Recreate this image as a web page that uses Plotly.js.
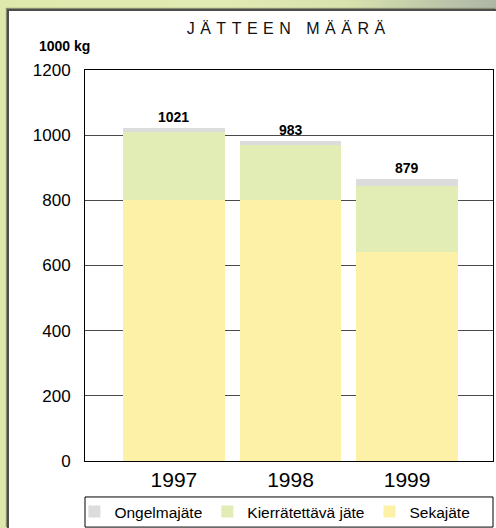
<!DOCTYPE html>
<html>
<head>
<meta charset="utf-8">
<script src="https://cdn.plot.ly/plotly-3.0.1.min.js"></script>
<style>
  html, body { margin: 0; padding: 0; }
  body {
    width: 496px; height: 528px; overflow: hidden; position: relative;
    background: linear-gradient(to right, #dfe8ac 0%, #e1eab2 45%, #d8e2ae 70%, #c2ccaa 85%, #aeb6a6 100%);
  }
  #panel {
    position: absolute; left: 7px; top: 9px; right: 0; bottom: 0;
    background: #ffffff;
    border-left: 2px solid #4d4d4d; border-top: 2px solid #4d4d4d;
    box-shadow: -1px -1px 1px #8a8a70;
  }
  #chart { position: absolute; left: 0; top: 0; width: 496px; height: 528px; }
  .gtitle { letter-spacing: 5.5px; }
</style>
</head>
<body>
<div id="panel"></div>
<div id="chart"></div>
<script>
// Data
const years = ['1997', '1998', '1999'];
const sekajate = [800, 800, 640];
const kierratettava = [210, 170, 205];
const ongelmajate = [11, 13, 20];
const totalLabels = ['1021', '983', '879'];

const totals = years.map((_, i) => sekajate[i] + kierratettava[i] + ongelmajate[i]);

const FONT = '"Liberation Sans", Arial, Helvetica, sans-serif';

const traces = [
  { type: 'bar', name: 'Sekajäte', x: years, y: sekajate,
    marker: { color: '#fdf1a7', line: { width: 0 } }, hoverinfo: 'skip' },
  { type: 'bar', name: 'Kierrätettävä jäte', x: years, y: kierratettava,
    marker: { color: '#e1edb4', line: { width: 0 } }, hoverinfo: 'skip' },
  { type: 'bar', name: 'Ongelmajäte', x: years, y: ongelmajate,
    marker: { color: '#dcdcdc', line: { width: 0 } }, hoverinfo: 'skip' }
];

// category index positions for the total labels
const annotations = years.map((yr, i) => ({
  x: i, y: totals[i], xref: 'x', yref: 'y',
  text: '<b>' + totalLabels[i] + '</b>', showarrow: false,
  yanchor: 'bottom', yshift: 1,
  font: { family: FONT, size: 14, color: '#000' }
}));
annotations.push({
  xref: 'paper', yref: 'paper', x: -0.118, y: 1.061,
  xanchor: 'left', yanchor: 'middle', showarrow: false,
  text: '<b>1000 kg</b>', font: { family: FONT, size: 14, color: '#000' }
});

const layout = {
  width: 496, height: 528,
  margin: { l: 85, r: 3, t: 70, b: 67, pad: 0, autoexpand: false },
  paper_bgcolor: 'rgba(0,0,0,0)',
  plot_bgcolor: '#ffffff',
  barmode: 'stack',
  bargap: 0.126,
  showlegend: true,
  title: {
    text: 'JÄTTEEN MÄÄRÄ',
    x: 0.582, xref: 'container', xanchor: 'center',
    y: 0.947, yref: 'container', yanchor: 'middle',
    font: { family: FONT, size: 16, color: '#111' }
  },
  xaxis: {
    type: 'category', range: [-0.763, 2.737],
    showgrid: false, zeroline: false, automargin: false,
    showline: true, mirror: true, linecolor: '#000', linewidth: 1,
    ticks: '', ticklabelstandoff: 0,
    tickfont: { family: FONT, size: 21, color: '#000' },
    fixedrange: true
  },
  yaxis: {
    range: [0, 1200], dtick: 200, tick0: 0, automargin: false,
    showgrid: true, gridcolor: '#4a4a4a', gridwidth: 1,
    zeroline: false,
    showline: true, mirror: true, linecolor: '#000', linewidth: 1,
    ticks: '', ticklabelstandoff: 10,
    tickfont: { family: FONT, size: 17, color: '#000' },
    fixedrange: true
  },
  legend: {
    orientation: 'h', traceorder: 'reversed',
    x: 0.15, xanchor: 'left', xref: 'container',
    y: 0.0303, yanchor: 'middle', yref: 'container',
    bgcolor: 'rgba(0,0,0,0)', borderwidth: 0,
    font: { family: FONT, size: 15.5, color: '#000' }
  },
  shapes: [{
    type: 'rect', xref: 'paper', yref: 'paper',
    x0: 0, x1: 1, y0: -0.169, y1: -0.092,
    line: { color: '#000', width: 1 }, fillcolor: 'rgba(0,0,0,0)'
  }],
  annotations: annotations
};

Plotly.newPlot('chart', traces, layout, { staticPlot: true, displayModeBar: false });
</script>
</body>
</html>
